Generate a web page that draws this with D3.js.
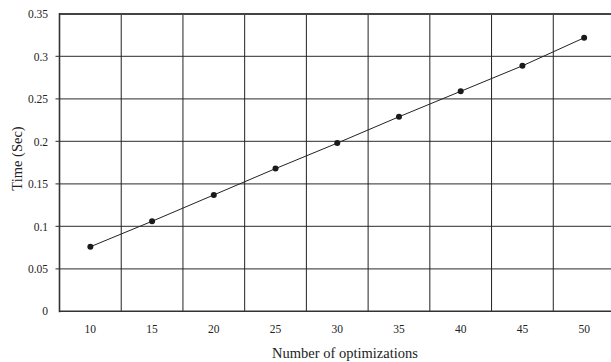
<!DOCTYPE html>
<html>
<head>
<meta charset="utf-8">
<script src="https://cdn.jsdelivr.net/npm/d3@7"></script>
<style>
  html, body { margin: 0; padding: 0; background: #fff; }
  svg { display: block; }
  text { font-family: "Liberation Serif", "Times New Roman", serif; fill: #222; }
</style>
</head>
<body>
<svg id="chart" width="611" height="362"></svg>
<script>
// Run time for each number of optimizations
const categories = [10, 15, 20, 25, 30, 35, 40, 45, 50];
const timeSec = [0.076, 0.106, 0.137, 0.168, 0.198, 0.229, 0.259, 0.289, 0.322];
const yTicks = [0, 0.05, 0.1, 0.15, 0.2, 0.25, 0.3, 0.35];
const yTickLabels = ["0", "0.05", "0.1", "0.15", "0.2", "0.25", "0.3", "0.35"];

const svg = d3.select("#chart");
const margin = { left: 59.5, top: 14, right: 615, bottom: 311.3 };

const x = d3.scaleBand()
  .domain(categories)
  .range([margin.left, margin.right])
  .paddingInner(0).paddingOuter(0);

const y = d3.scaleLinear()
  .domain([0, 0.35])
  .range([margin.bottom, margin.top]);

// horizontal gridlines
svg.append("g")
  .selectAll("line")
  .data(yTicks.slice(1, -1))
  .join("line")
  .attr("x1", margin.left - 4)
  .attr("x2", margin.right)
  .attr("y1", d => y(d))
  .attr("y2", d => y(d))
  .attr("stroke", "#555")
  .attr("stroke-width", 1.2);

// vertical gridlines between categories
svg.append("g")
  .selectAll("line")
  .data(categories.slice(1))
  .join("line")
  .attr("x1", d => x(d))
  .attr("x2", d => x(d))
  .attr("y1", margin.top)
  .attr("y2", margin.bottom)
  .attr("stroke", "#222")
  .attr("stroke-width", 1);

// frame: top, bottom, left
svg.append("line")
  .attr("x1", margin.left).attr("x2", margin.right)
  .attr("y1", y(0.35)).attr("y2", y(0.35))
  .attr("stroke", "#444").attr("stroke-width", 2);
svg.append("line")
  .attr("x1", margin.left).attr("x2", margin.right)
  .attr("y1", y(0)).attr("y2", y(0))
  .attr("stroke", "#333").attr("stroke-width", 1.6);
svg.append("line")
  .attr("x1", margin.left).attr("x2", margin.left)
  .attr("y1", margin.top - 1).attr("y2", margin.bottom + 1)
  .attr("stroke", "#333").attr("stroke-width", 1.6);

// y axis labels
const yAxis = d3.axisLeft(y)
  .tickValues(yTicks)
  .tickFormat((d, i) => yTickLabels[i])
  .tickSize(0)
  .tickPadding(11.5);
const gy = svg.append("g")
  .attr("transform", `translate(${margin.left},0)`)
  .call(yAxis);
gy.select(".domain").remove();
gy.selectAll("text")
  .attr("font-size", 11.5)
  .style("font-family", "Liberation Serif, serif")
  .attr("fill", "#333");

// x axis labels
const xAxis = d3.axisBottom(x).tickSize(0).tickPadding(13.5);
const gx = svg.append("g")
  .attr("transform", `translate(0,${margin.bottom})`)
  .call(xAxis);
gx.select(".domain").remove();
gx.selectAll("text")
  .attr("font-size", 11.5)
  .style("font-family", "Liberation Serif, serif")
  .attr("fill", "#333");

// axis titles
svg.append("text")
  .attr("x", 345)
  .attr("y", 357.5)
  .attr("text-anchor", "middle")
  .attr("font-size", 14.5)
  .attr("fill", "#333")
  .text("Number of optimizations");

svg.append("text")
  .attr("transform", `translate(21.5,158.5) rotate(-90)`)
  .attr("text-anchor", "middle")
  .attr("font-size", 14.5)
  .attr("fill", "#333")
  .text("Time (Sec)");

// line and markers
const cx = d => x(d) + x.bandwidth() / 2;
const pts = categories.map((c, i) => [cx(c), y(timeSec[i])]);

svg.append("path")
  .datum(pts)
  .attr("d", d3.line())
  .attr("fill", "none")
  .attr("stroke", "#222")
  .attr("stroke-width", 1);

svg.append("g")
  .selectAll("circle")
  .data(pts)
  .join("circle")
  .attr("cx", d => d[0])
  .attr("cy", d => d[1])
  .attr("r", 3)
  .attr("fill", "#1a1a1a");
</script>
</body>
</html>
